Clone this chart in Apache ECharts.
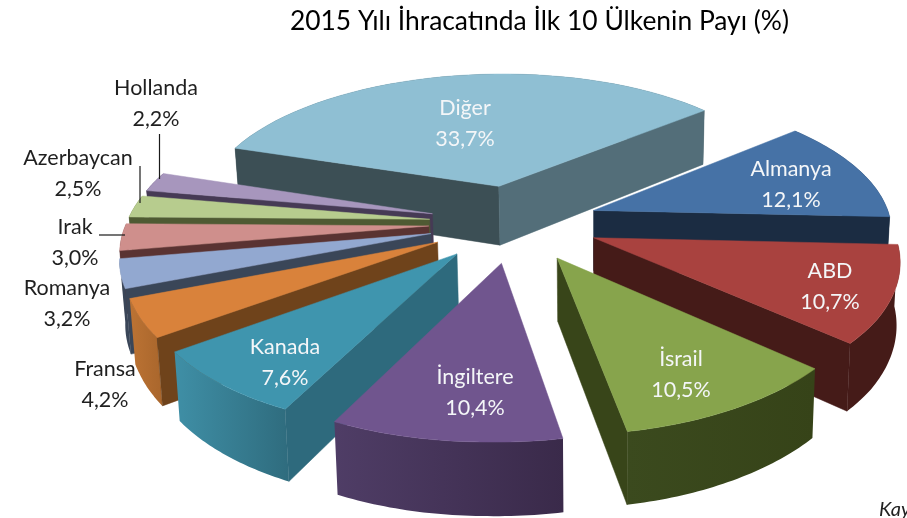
<!DOCTYPE html>
<html>
<head>
<meta charset="utf-8">
<script src="https://cdn.jsdelivr.net/npm/echarts@6/dist/echarts.min.js"></script>
<style>
html, body { margin: 0; padding: 0; background: #fff; overflow: hidden; }
#main { width: 907px; height: 518px; }
</style>
</head>
<body>
<div id="main"></div>
<script>
var categories = ['Almanya', 'ABD', 'İsrail', 'İngiltere', 'Kanada', 'Fransa', 'Romanya', 'Irak', 'Azerbaycan', 'Hollanda', 'Diğer'];
var shares = [12.1, 10.7, 10.5, 10.4, 7.6, 4.2, 3.2, 3.0, 2.5, 2.2, 33.7];

var topColors = ['#4672A6', '#A9423F', '#87A44C', '#70558E', '#3F95AE', '#D9823B', '#92A8D0', '#CF8F8C', '#B7CC8E', '#A796BD', '#8FBFD3'];
var sideColors = ['#1B2C42', '#451B18', '#384519', '#3A2A4A', '#2E6A7D', '#6F431B', '#3A4658', '#5A3332', '#4F5A33', '#463A55', '#3C4F55'];
var sideColorsRight = { 10: '#536E79' };
var rimColors = [
    ['#1B2C42', '#1B2C42'], ['#451B18', '#451B18'], ['#3B4A1E', '#364318'], ['#4F3D66', '#3A2A4A'],
    ['#3F8FA6', '#2F6C7E'], ['#BC7334', '#A9662C'], ['#3A4658', '#3A4658'], ['#5A3332', '#5A3332'],
    ['#4F5A33', '#4F5A33'], ['#463A55', '#463A55'], ['#3C4F55', '#3C4F55']
];
// label centres, same order as categories
var labelCenters = [[791, 185], [830, 287], [681, 375], [475, 393], [285, 363], [105, 385], [67, 304], [75, 243], [78, 174], [156, 104], [465, 124]];
var leaderLines = [[159.5, 134, 159.5, 179], [140, 166, 140, 203], [99, 235, 125, 235]];

var startAngle = 47;
var centerX = 514, centerY = 223;
var radiusX = 300, radiusY = 137;
var explode = 0.283;
var perspective = 0.138;
var skew = 14.7;
var tilt = 5;
var frontDrop = 3.5;
var depth = 61;
var SEGMENTS = 40;

var total = shares.reduce(function (a, b) { return a + b; }, 0);
var sliceAngles = [];
var cum = startAngle;
shares.forEach(function (v) {
    var sweep = v / total * 360;
    sliceAngles.push([cum, cum + sweep]);
    cum += sweep;
});

function dir(deg) {
    var r = deg * Math.PI / 180;
    return [Math.sin(r), -Math.cos(r)];
}

// plane point to screen, z 0 = top face, 1 = bottom face
function project(x, y, z) {
    var s = 1 / (1 - perspective * y);
    var sx = centerX - skew * y + radiusX * x * s;
    var sy = centerY + radiusY * y * s + tilt * x + depth * s * z;
    if (y > 0) {
        sy += frontDrop * y * y;
        if (x > 0) {
            sy += 4 * x * y;
        }
    }
    if (y > 0.6) {
        sx -= 9 * (y - 0.6);
    }
    if (z) {
        sx -= (sx - 600) * 0.012;
    }
    return [sx, sy];
}

// paint back slices first
var paintOrder = sliceAngles.map(function (a, i) {
    return { i: i, y: dir((a[0] + a[1]) / 2)[1] };
}).sort(function (a, b) { return a.y - b.y; });
var paintRank = [];
paintOrder.forEach(function (p, rank) { paintRank[p.i] = rank; });

function wallVisible(a, b, inner) {
    var ex = b[0] - a[0], ey = b[1] - a[1];
    var c1 = ex * 1;
    var c2 = ex * (inner[1] - a[1]) - ey * (inner[0] - a[0]);
    return c1 * c2 < 0;
}

function renderSlice(params, api) {
    var i = params.dataIndex;
    var ang = sliceAngles[i];
    var mid = dir((ang[0] + ang[1]) / 2);
    var ax = mid[0] * explode, ay = mid[1] * explode;
    var rim = [];
    for (var k = 0; k <= SEGMENTS; k++) {
        var d = dir(ang[0] + (ang[1] - ang[0]) * k / SEGMENTS);
        rim.push([ax + d[0], ay + d[1]]);
    }
    var apexTop = project(ax, ay, 0);
    var apexBottom = project(ax, ay, 1);
    var rimTop = rim.map(function (p) { return project(p[0], p[1], 0); });
    var rimBottom = rim.map(function (p) { return project(p[0], p[1], 1); });
    var base = paintRank[i] * 5;
    var children = [];

    var rimWall = rimTop.concat(rimBottom.slice().reverse());
    children.push({
        type: 'polygon', z2: base,
        shape: { points: rimWall },
        style: {
            fill: new echarts.graphic.LinearGradient(0, 0, 1, 0, [
                { offset: 0, color: rimColors[i][0] },
                { offset: 1, color: rimColors[i][1] }
            ])
        }
    });

    var innerPt = rimTop[Math.floor(SEGMENTS / 2)];
    [[0, sideColors[i]], [SEGMENTS, sideColorsRight[i] || sideColors[i]]].forEach(function (w) {
        var r = rimTop[w[0]];
        if (wallVisible(apexTop, r, innerPt)) {
            children.push({
                type: 'polygon', z2: base + 1,
                shape: { points: [apexTop, r, rimBottom[w[0]], apexBottom] },
                style: { fill: w[1], stroke: w[1], lineWidth: 0.5 }
            });
        }
    });

    children.push({
        type: 'polygon', z2: base + 2,
        shape: { points: [apexTop].concat(rimTop) },
        style: { fill: topColors[i], stroke: topColors[i], lineWidth: 0.5 }
    });

    var inside = i < 5 || i === 10;
    children.push({
        type: 'text', z2: 200,
        x: labelCenters[i][0], y: labelCenters[i][1],
        style: {
            text: categories[i] + '\n' + api.value(0).toFixed(1).replace('.', ',') + '%',
            fill: inside ? '#F4F6F8' : '#1F1F1F',
            font: '400 21.5px Lato',
            lineHeight: 31,
            align: 'center',
            verticalAlign: 'middle'
        }
    });
    return { type: 'group', children: children };
}

var chart = echarts.init(document.getElementById('main'), null, { renderer: 'canvas' });
chart.setOption({
    animation: false,
    backgroundColor: '#ffffff',
    title: {
        text: '2015 Yılı İhracatında İlk 10 Ülkenin Payı (%)',
        left: 534.5, top: 3,
        textAlign: 'center',
        textStyle: { fontFamily: 'Lato', fontWeight: 'normal', fontSize: 26.4, color: '#000' }
    },
    graphic: leaderLines.map(function (l) {
        return {
            type: 'line', z: 50, silent: true,
            shape: { x1: l[0], y1: l[1], x2: l[2], y2: l[3] },
            style: { stroke: '#1a1a1a', lineWidth: 1.2 }
        };
    }).concat([{
        type: 'text', left: 879, top: 500, silent: true,
        style: { text: 'Kaynak', font: 'italic 400 20px Lato', fill: '#222' }
    }]),
    series: [{
        type: 'custom',
        coordinateSystem: 'none',
        silent: true,
        renderItem: renderSlice,
        data: shares.map(function (v, i) { return { name: categories[i], value: [v] }; })
    }]
});
</script>
</body>
</html>
